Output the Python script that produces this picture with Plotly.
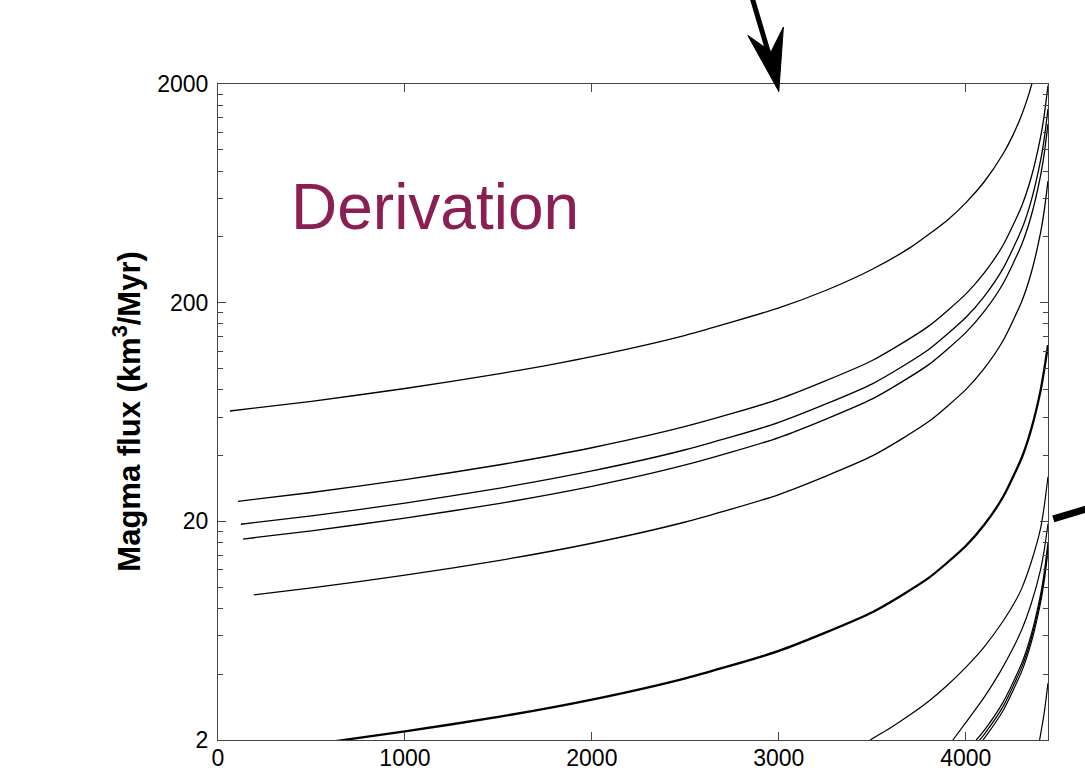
import plotly.graph_objects as go

# ---- data ----
age_A = [64, 500, 1000, 1500, 2000, 2500, 3000, 3250, 3500, 3700, 3900, 4000, 4100, 4200, 4250, 4300, 4340, 4360]
flux_A = [63.9, 70.8, 81.0, 94.5, 113.4, 141.9, 189.3, 227.3, 284.4, 356.0, 475.6, 571.7, 716.5, 959.3, 1155, 1451, 1826, 2096]

age_B = [107, 500, 1000, 1500, 2000, 2500, 3000, 3500, 3800, 4000, 4100, 4200, 4300, 4350, 4400, 4420, 4440]
flux_B = [24.7, 27.1, 31.0, 36.2, 43.4, 54.3, 72.4, 108.8, 155.8, 218.8, 274.2, 367.1, 555.4, 746.9, 1140, 1444, 1969]

age_C = [122, 500, 1000, 1500, 2000, 2500, 3000, 3500, 3800, 4000, 4100, 4200, 4300, 4350, 4400, 4420, 4440]
flux_C = [19.4, 21.2, 24.2, 28.3, 34.0, 42.5, 56.7, 85.1, 121.9, 171.1, 214.4, 287.1, 434.4, 584.1, 891.6, 1129, 1540]

age_D = [134, 500, 1000, 1500, 2000, 2500, 3000, 3500, 3800, 4000, 4100, 4200, 4300, 4350, 4400, 4420, 4440]
flux_D = [16.6, 18.1, 20.7, 24.1, 28.9, 36.2, 48.3, 72.6, 103.9, 145.9, 182.8, 244.7, 370.3, 497.9, 760.0, 962.7, 1313]

age_E = [191, 500, 1000, 1500, 2000, 2500, 3000, 3500, 3800, 4000, 4100, 4200, 4300, 4350, 4400, 4420, 4440]
flux_E = [9.21, 9.92, 11.34, 13.23, 15.88, 19.86, 26.51, 39.83, 57.02, 80.06, 100.3, 134.3, 203.2, 273.3, 417.2, 528.4, 720.5]

age_F = [600, 1000, 1500, 2000, 2500, 3000, 3500, 3800, 4000, 4100, 4200, 4300, 4350, 4400, 4420, 4440]
flux_F = [1.96, 2.19, 2.55, 3.06, 3.83, 5.11, 7.68, 10.99, 15.43, 19.34, 25.90, 39.18, 52.69, 79.0, 99.0, 128.0]

age_G = [3488, 3600, 3700, 3800, 3900, 4000, 4100, 4200, 4274, 4300, 4350, 4400, 4420, 4440]
flux_G = [2.0, 2.28, 2.6, 3.0, 3.55, 4.3, 5.35, 7.0, 8.9, 9.9, 13.0, 18.5, 23.5, 32.0]

age_H = [3931, 4000, 4100, 4184, 4250, 4300, 4350, 4400, 4420, 4440]
flux_H = [2.0, 2.4, 3.15, 4.1, 5.2, 6.4, 8.4, 12.0, 14.8, 19.5]

age_I = [4056, 4100, 4200, 4300, 4350, 4400, 4420, 4440]
flux_I = [2.0, 2.22, 2.98, 4.50, 6.06, 9.24, 11.7, 16.0]

age_J = [4074, 4100, 4200, 4300, 4350, 4400, 4420, 4440]
flux_J = [2.0, 2.13, 2.85, 4.32, 5.81, 8.86, 11.2, 15.3]

age_K = [4092, 4100, 4200, 4300, 4350, 4400, 4420, 4440]
flux_K = [2.0, 2.04, 2.73, 4.13, 5.56, 8.48, 10.7, 14.7]

age_L = [4395, 4420, 4440]
flux_L = [2.0, 2.67, 3.64]

curves = [
    (age_A, flux_A, 1.3), (age_B, flux_B, 1.3), (age_C, flux_C, 1.3),
    (age_D, flux_D, 1.3), (age_E, flux_E, 1.3), (age_F, flux_F, 2.3),
    (age_G, flux_G, 1.2), (age_H, flux_H, 1.2), (age_I, flux_I, 1.2),
    (age_J, flux_J, 1.2), (age_K, flux_K, 1.2), (age_L, flux_L, 1.2),
]

x_ticks = [0, 1000, 2000, 3000, 4000]
y_ticks = [2, 20, 200, 2000]
y_minor = [m * d for d in (1, 10, 100) for m in (4, 6, 8, 10, 12, 14, 16, 18)]

FONT = "Arial, Liberation Sans, Helvetica, sans-serif"

fig = go.Figure()
for xs, ys, w in curves:
    fig.add_trace(go.Scatter(x=xs, y=ys, mode="lines",
                             line=dict(color="black", width=w, shape="spline", smoothing=0.6),
                             hoverinfo="skip", showlegend=False))

axis_common = dict(showline=True, linecolor="#444", linewidth=1.2, mirror="ticks",
                   ticks="inside", ticklen=8, tickwidth=1, tickcolor="#444",
                   showgrid=False, zeroline=False, automargin=False,
                   tickfont=dict(family=FONT, size=23, color="black"))

fig.update_xaxes(range=[0, 4440], tickmode="array", tickvals=x_ticks,
                 ticktext=[str(v) for v in x_ticks], ticklabelstandoff=-3, **axis_common)
fig.update_yaxes(type="log", range=[0.30103, 3.30103], tickmode="array",
                 tickvals=y_ticks, ticktext=[str(v) for v in y_ticks], ticklabelstandoff=4,
                 minor=dict(tickmode="array", tickvals=y_minor, ticks="inside", ticklen=5,
                            tickcolor="#444", showgrid=False),
                 **axis_common)

W, H = 1085, 777
L, R, T, B = 218.3, 1047.7, 84.3, 740.0

def px(xp):
    return (xp - L) / (R - L)

def py(yp):
    return (B - yp) / (B - T)

fig.update_layout(
    width=W, height=H,
    margin=dict(l=L, r=W - R, t=T, b=H - B, pad=0, autoexpand=False),
    paper_bgcolor="white", plot_bgcolor="white",
    font=dict(family=FONT, color="black"),
    annotations=[
        dict(text="Magma flux (km<sup>3</sup>/Myr)", xref="paper", yref="paper",
             x=px(127), y=0.5, xanchor="center", yanchor="middle", textangle=-90,
             showarrow=False, font=dict(family=FONT, size=31, color="black", weight="bold")),
        dict(text="Derivation", xref="paper", yref="paper", x=px(290), y=py(207),
             xanchor="left", yanchor="middle", showarrow=False, borderpad=0,
             font=dict(family=FONT, size=64, color="#8B1E52")),
    ],
    shapes=[
        dict(type="line", xref="paper", yref="paper", x0=px(752), y0=py(-2), x1=px(771), y1=py(62),
             line=dict(color="black", width=5)),
        dict(type="path", xref="paper", yref="paper",
             path=f"M {px(747.7)},{py(35.7)} L {px(778.7)},{py(91.7)} L {px(783.3)},{py(27.3)} L {px(771)},{py(52)} Z",
             fillcolor="black", line=dict(color="black", width=1)),
        dict(type="line", xref="paper", yref="paper", x0=px(1053), y0=py(519), x1=px(1100), y1=py(505),
             line=dict(color="black", width=7)),
    ],
)

fig.write_html("out.html", config={"displayModeBar": False},
               post_script="document.body.style.margin='0';")
